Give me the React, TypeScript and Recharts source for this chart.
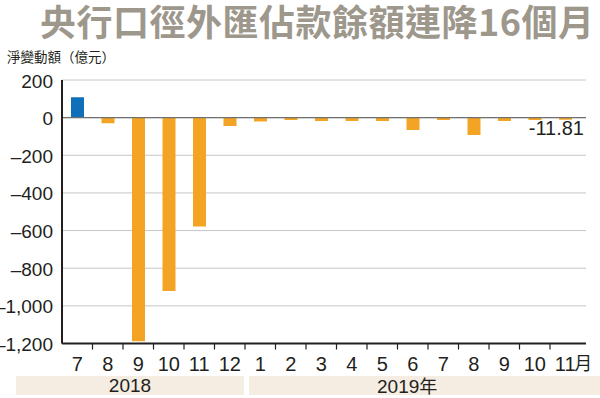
import React from "react";
import {BarChart, Bar, XAxis, YAxis, CartesianGrid, ReferenceLine, Cell, LabelList} from "recharts";

// 央行口徑外匯佔款 每月淨變動額 (億元)
const ids = ["2018-7", "2018-8", "2018-9", "2018-10", "2018-11", "2018-12",
    "2019-1", "2019-2", "2019-3", "2019-4", "2019-5", "2019-6", "2019-7", "2019-8", "2019-9", "2019-10", "2019-11"];
const months = ["7", "8", "9", "10", "11", "12", "1", "2", "3", "4", "5", "6", "7", "8", "9", "10", "11"];
const values = [109, -30, -1188, -921, -578, -44, -21, -12, -18, -18, -18, -66, -12, -92, -18, -12, -11.81];
const yTicks = [200, 0, -200, -400, -600, -800, -1000, -1200];
const years = ["2018", "2019"];

const data = ids.map((id, i) => ({id, month: months[i], value: values[i]}));

const NARROW = '"Liberation Sans Narrow", "Arial Narrow", "Liberation Sans", Arial, sans-serif';
const CJK = '"Noto Sans CJK TC", "Noto Sans CJK SC", sans-serif';
const BAND = 30.5;
const ORANGE = "#f3a425";
const BLUE = "#0f6fb9";
const INK = "#231f20";

const fmt = (v) => {
    const s = Math.abs(v).toLocaleString("en-US");
    return v < 0 ? "\u2013" + s : s;
};

const YTick = (props) => {
    const {x, y, payload} = props;
    return (
        <text x={x - 9} y={y + 7.5} textAnchor="end" fontSize={19} fontFamily={NARROW} fill={INK}>
            {fmt(payload.value)}
        </text>
    );
};

const XTick = (props) => {
    const {x, y, index} = props;
    const last = index === months.length - 1;
    return (
        <g>
            {index > 0 && <line x1={x - BAND / 2} x2={x - BAND / 2} y1={y} y2={y + 6} stroke={INK} strokeWidth={1.2}/>}
            <text x={x} y={y + 27.5} textAnchor="middle" fontSize={20} fontFamily={NARROW} fill={INK}>
                {months[index]}
            </text>
            {last && (
                <text x={x + 9} y={y + 26.5} textAnchor="start" fontSize={18} fontFamily={CJK} fill={INK}>月</text>
            )}
        </g>
    );
};

const LastLabel = (props) => {
    const {x, y, width, height, index, value} = props;
    if (index !== values.length - 1) return null;
    const bottom = Math.max(y, y + height);
    return (
        <text x={x + width + 12} y={bottom + 15} textAnchor="end" fontSize={20} fontFamily={NARROW} fill={INK}>
            {"-" + Math.abs(value)}
        </text>
    );
};

export default function App() {
    return (
        <div style={{position: "absolute", left: 0, top: 0, width: 600, height: 398, background: "#fff", overflow: "hidden"}}>
            <div style={{
                position: "absolute", left: 40, top: 0, fontSize: 36, fontWeight: 700, lineHeight: "40px",
                fontFamily: CJK, color: "#9d978c", whiteSpace: "nowrap", letterSpacing: 0.5
            }}>
                央行口徑外匯佔款餘額連降16個月
            </div>
            <div style={{
                position: "absolute", left: 7, top: 48, fontSize: 13.5, lineHeight: "16px",
                fontFamily: CJK, color: INK, whiteSpace: "nowrap"
            }}>
                淨變動額（億元）
            </div>

            <div style={{
                position: "absolute", left: 16, top: 376, width: 228, height: 19, background: "#f5ece2",
                fontFamily: NARROW, fontSize: 19, color: INK, textAlign: "center", lineHeight: "19px"
            }}>
                {years[0]}
            </div>
            <div style={{
                position: "absolute", left: 249, top: 376, width: 351, height: 19, background: "#f5ece2",
                fontFamily: NARROW, fontSize: 19, color: INK, lineHeight: "19px"
            }}>
                <span style={{position: "absolute", left: 128}}>
                    {years[1]}<span style={{fontFamily: CJK, fontSize: 18}}>年</span>
                </span>
            </div>

            <div style={{position: "absolute", left: 0, top: 0}}>
                <BarChart width={600} height={398} data={data}
                          margin={{top: 80, right: 14, left: 2, bottom: 24.5}}>
                    <CartesianGrid horizontal={true} vertical={false} stroke="#c6c6c6" strokeWidth={1}/>
                    <XAxis dataKey="id" height={30} tickSize={0} tickMargin={0} interval={0}
                           padding={{left: 0, right: 5.5}}
                           axisLine={{stroke: INK, strokeWidth: 2}} tickLine={false} tick={<XTick/>}/>
                    <YAxis width={60} domain={[-1200, 200]} ticks={yTicks} type="number" interval={0}
                           tickSize={0} tickMargin={0} allowDataOverflow={true}
                           axisLine={{stroke: INK, strokeWidth: 2}} tickLine={false} tick={<YTick/>}/>
                    <ReferenceLine y={0} stroke="#707070" strokeWidth={1.2}/>
                    <Bar dataKey="value" barSize={13} isAnimationActive={false}>
                        {data.map((d) => (
                            <Cell key={d.id} fill={d.value > 0 ? BLUE : ORANGE}/>
                        ))}
                        <LabelList dataKey="value" content={<LastLabel/>}/>
                    </Bar>
                </BarChart>
            </div>
        </div>
    );
}
